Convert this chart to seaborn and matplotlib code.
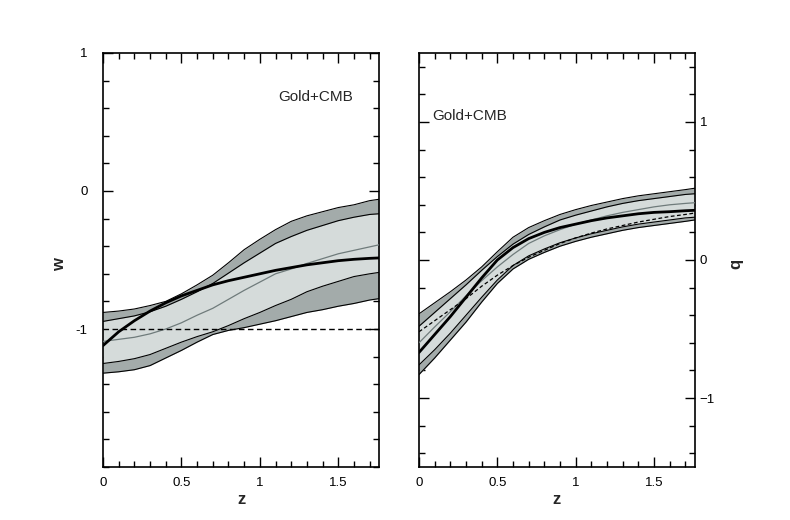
import numpy as np
import pandas as pd
import matplotlib
matplotlib.use("Agg")
import matplotlib.pyplot as plt
from matplotlib.ticker import MultipleLocator
import seaborn as sns

# redshift grid shared by all reconstructed curves
z = [0.0, 0.1, 0.2, 0.3, 0.4, 0.5, 0.6, 0.7, 0.8, 0.9,
     1.0, 1.1, 1.2, 1.3, 1.4, 1.5, 1.6, 1.7, 1.76]

# left panel: w(z)
w_outer_hi = [-0.88, -0.87, -0.855, -0.83, -0.80, -0.745, -0.68, -0.61, -0.52, -0.425,
              -0.35, -0.28, -0.22, -0.18, -0.15, -0.12, -0.10, -0.07, -0.06]
w_inner_hi = [-0.945, -0.925, -0.905, -0.875, -0.835, -0.785, -0.73, -0.67, -0.595, -0.52,
              -0.45, -0.38, -0.33, -0.285, -0.25, -0.215, -0.19, -0.17, -0.165]
w_mid = [-1.09, -1.075, -1.06, -1.035, -1.0, -0.955, -0.90, -0.85, -0.785, -0.72,
         -0.66, -0.60, -0.565, -0.525, -0.49, -0.455, -0.43, -0.405, -0.39]
w_inner_lo = [-1.25, -1.235, -1.215, -1.185, -1.14, -1.095, -1.055, -1.02, -0.975, -0.925,
              -0.88, -0.83, -0.785, -0.73, -0.69, -0.655, -0.62, -0.60, -0.59]
w_outer_lo = [-1.32, -1.31, -1.295, -1.265, -1.21, -1.155, -1.095, -1.04, -1.01, -0.99,
              -0.965, -0.94, -0.91, -0.88, -0.86, -0.835, -0.815, -0.79, -0.78]
w_fit = [-1.12, -1.02, -0.94, -0.87, -0.81, -0.76, -0.72, -0.68, -0.65, -0.625,
         -0.60, -0.575, -0.555, -0.535, -0.52, -0.505, -0.495, -0.488, -0.485]
w_lcdm = -1.0

# right panel: q(z)
q_outer_hi = [-0.39, -0.31, -0.23, -0.145, -0.05, 0.06, 0.165, 0.235, 0.285, 0.33,
              0.365, 0.395, 0.42, 0.445, 0.465, 0.48, 0.495, 0.51, 0.52]
q_inner_hi = [-0.48, -0.38, -0.28, -0.18, -0.075, 0.025, 0.115, 0.185, 0.24, 0.29,
              0.325, 0.355, 0.385, 0.41, 0.43, 0.445, 0.46, 0.475, 0.48]
q_mid = [-0.60, -0.485, -0.375, -0.26, -0.15, -0.05, 0.04, 0.12, 0.175, 0.22,
         0.26, 0.29, 0.32, 0.345, 0.365, 0.385, 0.40, 0.41, 0.415]
q_inner_lo = [-0.76, -0.65, -0.53, -0.40, -0.27, -0.145, -0.04, 0.03, 0.08, 0.125,
              0.16, 0.19, 0.215, 0.24, 0.26, 0.275, 0.29, 0.305, 0.31]
q_outer_lo = [-0.83, -0.71, -0.58, -0.45, -0.305, -0.17, -0.065, 0.005, 0.055, 0.10,
              0.135, 0.165, 0.19, 0.215, 0.235, 0.25, 0.265, 0.28, 0.29]
q_fit = [-0.67, -0.54, -0.41, -0.27, -0.13, 0.0, 0.09, 0.155, 0.20, 0.235,
         0.26, 0.285, 0.305, 0.32, 0.335, 0.345, 0.35, 0.357, 0.36]
q_lcdm = [-0.52, -0.44, -0.36, -0.28, -0.19, -0.11, -0.04, 0.02, 0.07, 0.12,
          0.16, 0.195, 0.225, 0.25, 0.275, 0.295, 0.315, 0.33, 0.34]

label_text = "Gold+CMB"

sns.set_style("ticks")
plt.rcParams['font.family'] = ['Liberation Sans', 'DejaVu Sans']

dark = '#a3abaa'
light = '#d5dbda'
mid_col = '#6f7b7b'

fig = plt.figure(figsize=(7.9, 5.2), dpi=100)
ax1 = fig.add_axes([0.1304, 0.1019, 0.3494, 0.7962])
ax2 = fig.add_axes([0.5304, 0.1019, 0.3490, 0.7962])


def draw_panel(ax, hi2, hi1, mid, lo1, lo2, fit):
    ax.fill_between(z, lo2, hi2, color=dark, lw=0, zorder=1)
    ax.fill_between(z, lo1, hi1, color=light, lw=0, zorder=2)
    for edge in [hi2, hi1, lo1, lo2]:
        sns.lineplot(x=z, y=edge, ax=ax, color='black', lw=0.8, zorder=3)
    sns.lineplot(x=z, y=mid, ax=ax, color=mid_col, lw=0.9, zorder=3)
    sns.lineplot(x=z, y=fit, ax=ax, color='black', lw=2.0, zorder=5)


def style_axes(ax):
    ax.set_xlim(0, 1.76)
    ax.xaxis.set_major_locator(MultipleLocator(0.5))
    ax.xaxis.set_minor_locator(MultipleLocator(0.1))
    ax.yaxis.set_minor_locator(MultipleLocator(0.2))
    ax.tick_params(which='both', direction='in', top=True, right=True,
                   left=True, bottom=True, colors='black', labelsize=9.5)
    ax.tick_params(which='major', length=7, width=1.0)
    ax.tick_params(which='minor', length=4, width=1.0)
    ax.tick_params(axis='x', which='major', pad=7)
    ax.xaxis.set_major_formatter(plt.FuncFormatter(lambda v, p: f"{v:g}"))
    for s in ax.spines.values():
        s.set_color('black')
        s.set_linewidth(1.2)
    ax.set_xlabel('z', fontsize=12, fontweight='bold')
    ax.xaxis.set_label_coords(0.5, -0.06)


# left: w(z)
draw_panel(ax1, w_outer_hi, w_inner_hi, w_mid, w_inner_lo, w_outer_lo, w_fit)
ax1.axhline(w_lcdm, color='black', lw=1.0, ls=(0, (4, 2.5)), zorder=4)
style_axes(ax1)
ax1.set_ylim(-2, 1)
ax1.set_yticks([-1, 0, 1])
ax1.set_yticklabels(['-1', '0', '1'])
ax1.tick_params(axis='y', which='major', pad=11)
ax1.set_ylabel('w', fontsize=12, fontweight='bold', rotation=90)
ax1.yaxis.set_label_coords(-0.13, 0.49)
ax1.text(0.772, 0.893, label_text, transform=ax1.transAxes, ha='center', va='center',
         fontsize=11, family=['Liberation Sans Narrow', 'Liberation Sans', 'DejaVu Sans'])

# right: q(z)
draw_panel(ax2, q_outer_hi, q_inner_hi, q_mid, q_inner_lo, q_outer_lo, q_fit)
sns.lineplot(x=z, y=q_lcdm, ax=ax2, color='black', lw=0.9, ls=(0, (3, 2)), zorder=4)
style_axes(ax2)
ax2.set_ylim(-1.5, 1.5)
ax2.set_yticks([-1, 0, 1])
ax2.set_yticklabels(['\u22121', '0', '1'])
ax2.tick_params(axis='y', which='both', labelleft=False, labelright=True)
ax2.set_ylabel('q', fontsize=12, fontweight='bold', rotation=90)
ax2.yaxis.set_label_position('right')
ax2.yaxis.set_label_coords(1.122, 0.49)
ax2.text(0.185, 0.848, label_text, transform=ax2.transAxes, ha='center', va='center',
         fontsize=11, family=['Liberation Sans Narrow', 'Liberation Sans', 'DejaVu Sans'])

fig.savefig('out.png', dpi=100, facecolor='white')
